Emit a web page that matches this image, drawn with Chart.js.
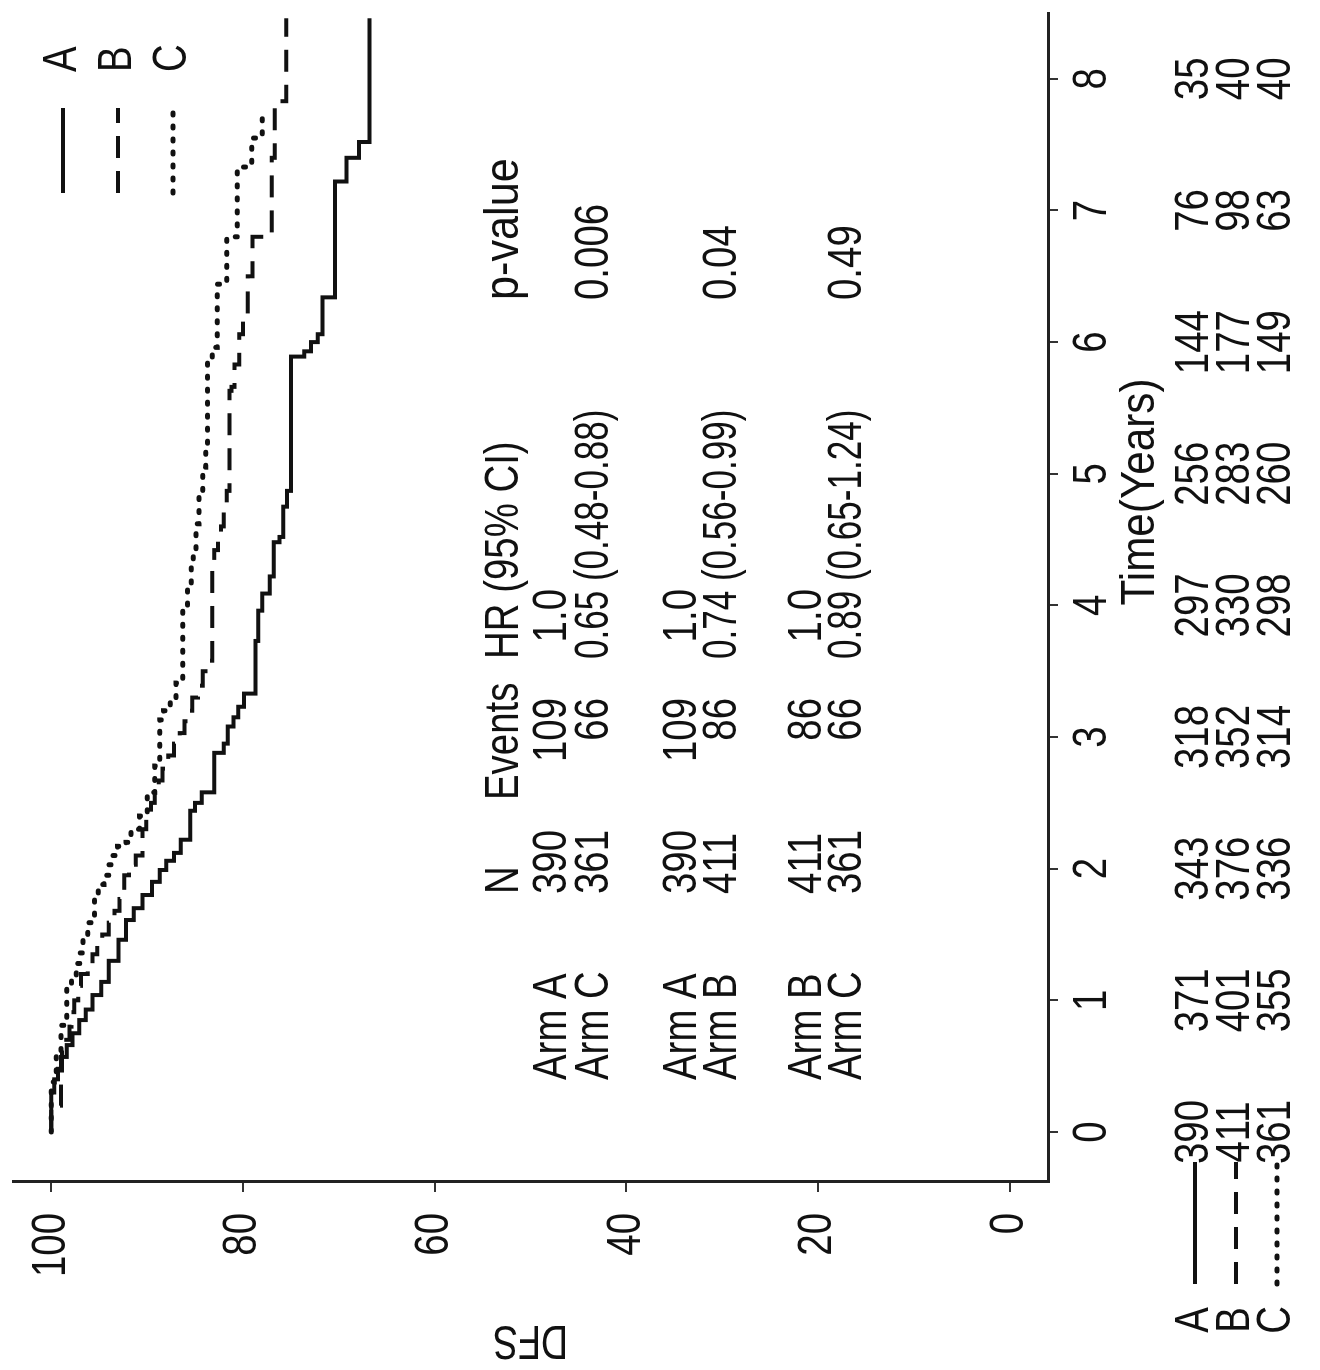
<!DOCTYPE html>
<html><head><meta charset="utf-8">
<script src="https://cdn.jsdelivr.net/npm/chart.js@4.4.1/dist/chart.umd.min.js"></script>
<style>
html,body{margin:0;padding:0;background:#fff;overflow:hidden;width:1320px;height:1370px;}
#wrap{position:absolute;left:0;top:0;width:1370px;height:1320px;transform-origin:0 0;transform:translateY(1370px) rotate(-90deg);}
canvas{display:block;}
</style></head><body>
<div id="wrap"><canvas id="c" width="1370" height="1320"></canvas></div>
<script>
// ---- data ----
const timeTicks=[0,1,2,3,4,5,6,7,8];
const dfsTicks=[0,20,40,60,80,100];
const armLabels=["A","B","C"];
const armA_time=[0,0.30,0.40,0.48,0.57,0.66,0.75,0.85,0.93,1.04,1.14,1.30,1.46,1.61,1.70,1.80,1.90,1.99,2.06,2.12,2.22,2.44,2.50,2.58,2.88,2.95,3.08,3.15,3.23,3.33,3.73,3.96,4.09,4.22,4.48,4.52,4.75,4.87,5.89,5.93,6.00,6.06,6.34,7.22,7.40,7.52,8.46];
const armA_dfs=[100,99.7,99.3,99.0,98.4,97.8,97.1,96.4,95.7,94.8,94.0,93.0,92.2,91.4,90.5,89.5,88.7,88.0,87.2,86.5,85.5,85.0,84.3,83.0,82.0,81.6,81.0,80.5,79.9,78.7,78.4,78.0,77.2,76.8,76.2,75.8,75.4,75.0,73.6,72.9,72.2,71.7,70.4,69.2,67.9,66.8,66.8];
const armB_time=[0,0.20,0.45,0.70,0.80,0.91,1.00,1.11,1.20,1.27,1.35,1.42,1.50,1.59,1.68,1.77,1.95,2.03,2.10,2.30,2.40,2.50,2.58,2.67,2.76,2.86,2.95,3.03,3.12,3.20,3.30,3.39,3.50,3.58,4.34,4.42,4.49,4.60,4.72,4.87,5.63,5.66,5.83,6.06,6.20,6.50,6.80,7.40,7.83,8.46];
const armB_dfs=[100,99.0,98.9,98.1,97.9,97.6,97.2,96.9,96.2,95.7,95.2,94.7,94.0,93.4,92.9,92.4,91.9,91.2,90.5,90.1,89.6,89.2,88.8,88.4,87.8,87.2,86.6,86.1,85.7,85.3,84.7,84.2,83.6,83.2,83.0,82.6,82.3,82.0,81.7,81.4,81.2,80.9,80.4,80.0,79.5,79.0,77.0,76.7,75.5,75.5];
const armC_time=[0,0.38,0.45,0.58,0.81,1.11,1.19,1.28,1.36,1.46,1.59,1.80,1.88,1.95,2.03,2.10,2.17,2.20,2.30,2.40,2.58,2.78,3.13,3.20,3.28,3.41,3.99,4.17,4.30,4.42,4.62,4.82,5.05,5.17,5.87,5.96,6.44,6.80,7.33,7.55,7.75];
const armC_dfs=[100,99.7,99.5,99.0,98.4,97.9,97.4,97.0,96.7,96.2,95.5,95.1,94.5,94.0,93.6,93.1,92.2,91.7,90.8,90.0,89.2,88.7,88.3,87.6,87.0,86.3,85.8,85.4,85.2,84.9,84.6,84.2,83.9,83.7,83.2,82.7,81.7,80.6,79.1,78.0,77.6];
const riskTimes=[0,1,2,3,4,5,6,7,8];
const riskA=[390,371,343,318,297,256,144,76,35];
const riskB=[411,401,376,352,330,283,177,98,40];
const riskC=[361,355,336,314,298,260,149,63,40];
const tableHeader=["N","Events","HR (95% CI)","p-value"];
const tableArm=["Arm A","Arm C","Arm A","Arm B","Arm B","Arm C"];
const tableN=["390","361","390","411","411","361"];
const tableEvents=["109","66","109","86","86","66"];
const tableHR=["1.0","0.65 (0.48-0.88)","1.0","0.74 (0.56-0.99)","1.0","0.89 (0.65-1.24)"];
const tableP=["","0.006","","0.04","","0.49"];
const xTitle="Time(Years)";
const yTitle="DFS";

// ---- styles ----
const FONT="'Liberation Sans',Arial,Helvetica,sans-serif";
const FS=48, SX=0.8;
const INK='#111';
const styles=[
  {borderDash:[],width:4,cap:'butt'},
  {borderDash:[22,13],width:4,cap:'butt'},
  {borderDash:[2,11],width:5,cap:'round'}
];
const toPts=(t,v)=>t.map((x,i)=>({x:x,y:v[i]}));
const series=[toPts(armA_time,armA_dfs),toPts(armB_time,armB_dfs),toPts(armC_time,armC_dfs)];

function txt(c,s,x,y,align,sx){
  c.save(); c.translate(x,y); c.scale(sx,1); c.textAlign=align; c.fillText(s,0,0); c.restore();
}

const annot={
  id:'annot',
  afterDraw(chart){
    const c=chart.ctx, xs=chart.scales.x, ys=chart.scales.y;
    c.save();
    c.fillStyle=INK; c.strokeStyle=INK; c.textBaseline='middle';
    c.font=FS+'px '+FONT;
    // axis tick labels
    timeTicks.forEach(v=>txt(c,String(v),xs.getPixelForValue(v),1093,'center',SX));
    dfsTicks.forEach(v=>txt(c,String(v),157,ys.getPixelForValue(v),'right',SX));
    // y title
    c.save(); c.translate(31,(ys.top+ys.bottom)/2); c.rotate(-Math.PI/2); c.scale(0.78,1);
    c.textAlign='center'; c.fillText(yTitle,0,0); c.restore();
    // x title
    txt(c,xTitle,878,1141,'center',0.88);
    // stats table
    const hy=505;
    txt(c,tableHeader[0],476,hy,'left',SX);
    txt(c,tableHeader[1],570,hy,'left',SX);
    txt(c,tableHeader[2],711,hy,'left',SX);
    txt(c,tableHeader[3],1070,hy,'left',0.9);
    const rowY=[553,595,683,723,808,848];
    for(let i=0;i<rowY.length;i++){
      const y=rowY[i];
      txt(c,tableArm[i],290,y,'left',SX);
      txt(c,tableN[i],476,y,'left',SX);
      txt(c,tableEvents[i],672,y,'right',SX);
      if(tableHR[i]==='1.0') txt(c,tableHR[i],781,y,'right',SX);
      else txt(c,tableHR[i],711,y,'left',0.73);
      if(tableP[i]) txt(c,tableP[i],1070,y,'left',SX);
    }
    // legend (top right)
    const ly=[63,118,173];
    for(let k=0;k<3;k++){
      c.save();
      c.lineWidth=styles[k].width; c.setLineDash(styles[k].borderDash); c.lineCap=styles[k].cap;
      c.beginPath(); c.moveTo(1177,ly[k]); c.lineTo(1262,ly[k]); c.stroke();
      c.restore();
      txt(c,armLabels[k],1298,ly[k],'left',SX);
    }
    // number at risk
    const ry=[1195,1236,1277];
    const risks=[riskA,riskB,riskC];
    for(let k=0;k<3;k++){
      txt(c,armLabels[k],50,ry[k],'center',SX);
      c.save();
      c.lineWidth=styles[k].width; c.setLineDash(styles[k].borderDash); c.lineCap=styles[k].cap;
      c.beginPath(); c.moveTo(86,ry[k]); c.lineTo(208,ry[k]); c.stroke();
      c.restore();
      for(let j=0;j<riskTimes.length;j++){
        txt(c,String(risks[k][j]),xs.getPixelForValue(riskTimes[j]),ry[k],'center',SX);
      }
    }
    c.restore();
  }
};

new Chart(document.getElementById('c'),{
  type:'line',
  data:{datasets:series.map((d,k)=>({
    label:armLabels[k],data:d,stepped:true,borderColor:INK,borderWidth:styles[k].width,
    borderDash:styles[k].borderDash,borderCapStyle:styles[k].cap,pointRadius:0,fill:false,tension:0
  }))},
  options:{
    responsive:false,animation:false,devicePixelRatio:1,
    layout:{padding:{top:13,right:13,left:0,bottom:0}},
    plugins:{legend:{display:false},tooltip:{enabled:false}},
    scales:{
      x:{type:'linear',min:-0.38,max:8.5,
        afterBuildTicks:s=>{s.ticks=timeTicks.map(v=>({value:v}));},
        afterFit:s=>{s.height=272;s.paddingLeft=0;s.paddingRight=0;},
        grid:{drawOnChartArea:false,drawTicks:true,tickLength:10,color:'#333',lineWidth:2},
        border:{display:true,color:'#222',width:3},
        ticks:{display:false}
      },
      y:{type:'linear',min:-4,max:104,
        afterBuildTicks:s=>{s.ticks=dfsTicks.map(v=>({value:v}));},
        afterFit:s=>{s.width=188;s.paddingTop=0;s.paddingBottom=0;},
        grid:{drawOnChartArea:false,drawTicks:true,tickLength:10,color:'#333',lineWidth:2},
        border:{display:true,color:'#222',width:3},
        ticks:{display:false}
      }
    }
  },
  plugins:[annot]
});
</script>
</body></html>
